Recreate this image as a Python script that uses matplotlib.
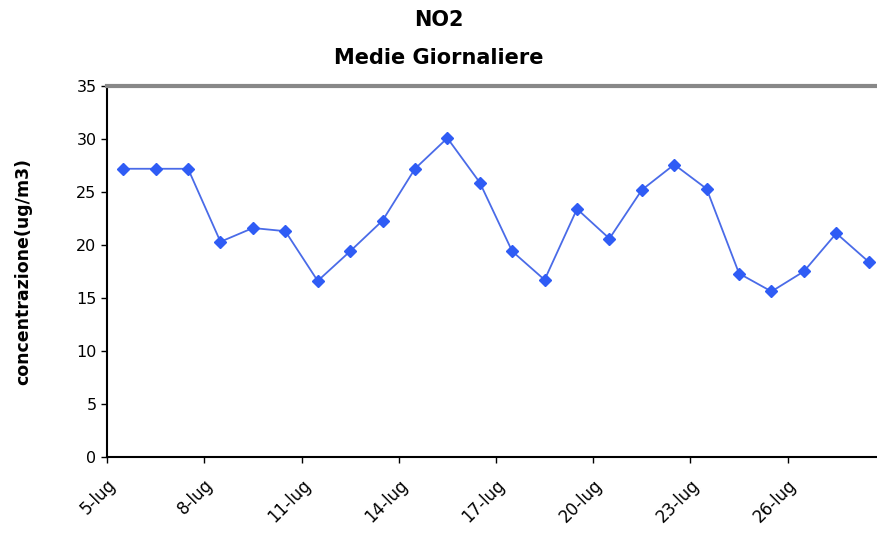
import matplotlib
matplotlib.use("Agg")
import matplotlib.pyplot as plt
import numpy as np

# daily NO2 averages, 5-lug .. 28-lug
days = [f"{d}-lug" for d in range(5, 29)]
no2 = [27.2, 27.2, 27.2, 20.3, 21.6, 21.3, 16.6, 19.4, 22.3, 27.2, 30.1, 25.9,
       19.4, 16.7, 23.4, 20.6, 25.2, 27.6, 25.3, 17.3, 15.6, 17.5, 21.1, 18.4]
yticks = [0, 5, 10, 15, 20, 25, 30, 35]

fig = plt.figure(figsize=(8.78, 5.39), dpi=100)
ax = fig.add_axes([0.1219, 0.153, 0.886, 0.687])

x = np.arange(len(no2))
ax.plot(x, no2, color="#4a6be8", lw=1.3, marker="D", markersize=6.5,
        markerfacecolor="#2f5cf5", markeredgecolor="#2f5cf5")

ax.set_xlim(-0.5, len(no2) - 0.5)
ax.set_ylim(0, 35)
ax.set_yticks(yticks)
ax.set_yticklabels([str(v) for v in yticks], fontsize=11.5)

tick_pos = np.arange(0, len(no2), 3) - 0.5
ax.set_xticks(tick_pos)
ax.set_xticklabels([days[i] for i in range(0, len(no2), 3)], rotation=45,
                   ha="right", rotation_mode="anchor", fontsize=12)
ax.tick_params(axis="both", direction="out", length=4, width=1, colors="black")
ax.tick_params(axis="x", pad=10)

ax.spines["top"].set_color("#888888")
ax.spines["top"].set_linewidth(3)
ax.spines["left"].set_linewidth(1.5)
ax.spines["bottom"].set_linewidth(1.5)
ax.spines["right"].set_visible(False)

ax.set_ylabel("concentrazione(ug/m3)", fontsize=12.5, fontweight="bold")
ax.yaxis.set_label_coords(-0.096, 0.5)
fig.text(0.5, 0.962, "NO2", ha="center", va="center", fontsize=15, fontweight="bold")
fig.text(0.5, 0.893, "Medie Giornaliere", ha="center", va="center", fontsize=15,
         fontweight="bold")

fig.savefig("out.png", dpi=100)
